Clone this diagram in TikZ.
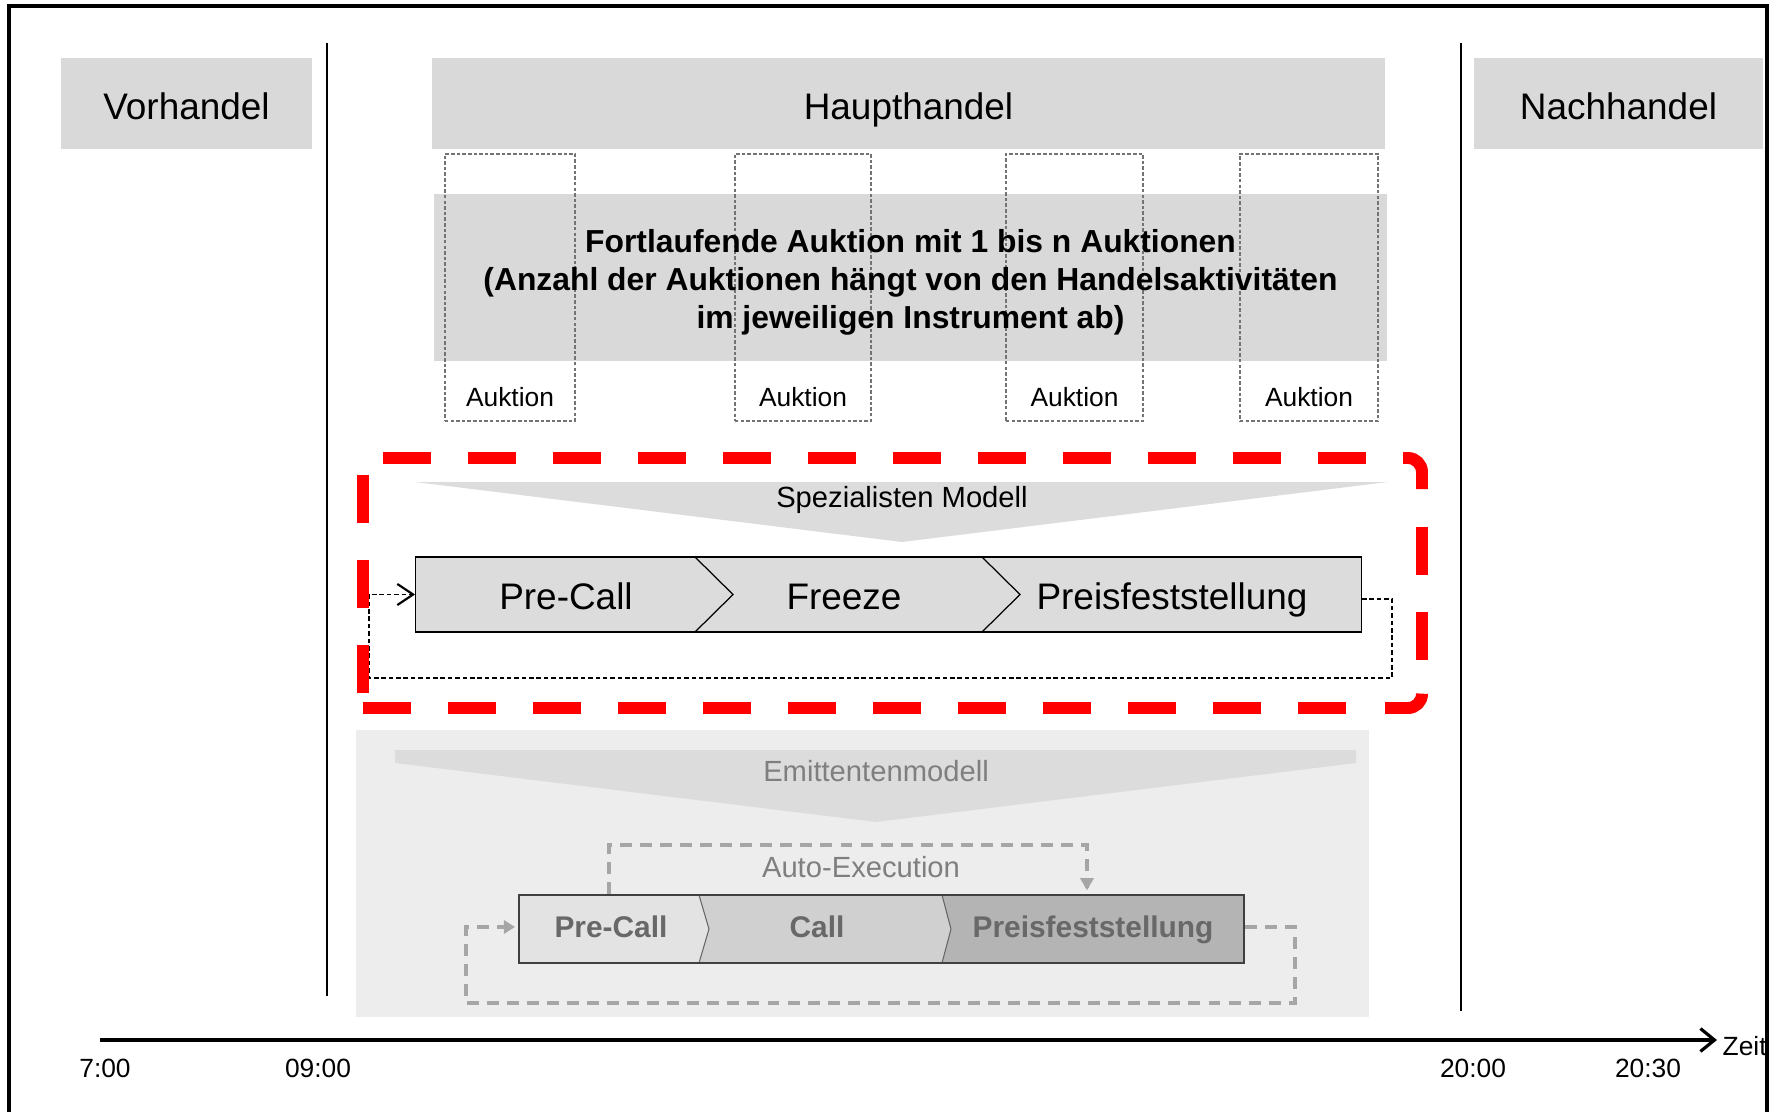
\documentclass[tikz,border=0pt]{standalone}
\usepackage{fontspec}
\setmainfont{Liberation Sans}
\usetikzlibrary{arrows.meta,calc}
\definecolor{hdr}{HTML}{D9D9D9}
\definecolor{bgE}{HTML}{EDEDED}
\definecolor{triE}{HTML}{DCDCDC}
\definecolor{txtE}{HTML}{7F7F7F}
\definecolor{redd}{HTML}{FF0000}
\definecolor{cA}{HTML}{E3E3E3}
\definecolor{cB}{HTML}{D0D0D0}
\definecolor{cC}{HTML}{B4B4B4}
\definecolor{lnE}{HTML}{A6A6A6}
\definecolor{txtR}{HTML}{686868}
\begin{document}
\begin{tikzpicture}[x=0.01cm,y=-0.01cm,
  hdrbox/.style={fill=hdr,inner sep=0pt,text height=9pt,text depth=0pt,font=\fontsize{10.5}{12.6}\selectfont},
  aukbox/.style={draw=black!55,line width=0.35pt,dash pattern=on 1pt off 0.6pt,inner sep=0pt},
  auklbl/.style={inner sep=0pt,text height=5.37pt,text depth=0pt,font=\fontsize{7.5}{9}\selectfont},
  bigtxt/.style={inner sep=0pt,text height=7.52pt,text depth=0pt,font=\fontsize{10.5}{12.6}\selectfont},
  midtxt/.style={inner sep=0pt,text height=5.94pt,text depth=0pt,font=\fontsize{8.3}{10}\selectfont},
  rowtwo/.style={inner sep=0pt,text height=6.09pt,text depth=0pt,text=txtR,font=\bfseries\fontsize{8.5}{10}\selectfont},
  timelbl/.style={inner sep=0pt,text height=5.37pt,text depth=0pt,font=\fontsize{7.5}{9}\selectfont},
  redseg/.style={draw=redd,line width=3.4pt,rounded corners=4},
  blkloop/.style={draw=black,line width=0.55pt,dash pattern=on 1.3pt off 0.8pt},
  grayloop/.style={draw=lnE,line width=0.9pt,dash pattern=on 3.4pt off 2.3pt},
  divline/.style={draw=black,line width=0.35pt}
]
\useasboundingbox (0,0) rectangle (1781,1112);

% outer frame
\draw[line width=0.9pt] (9,1112) -- (9,6) -- (1767,6) -- (1767,1112);

% phase separators
\coordinate (s1t) at (327,43); \coordinate (s1b) at (327,996);
\coordinate (s2t) at (1461,43); \coordinate (s2b) at (1461,1011);
\draw[line width=0.6pt] (s1t) -- (s1b);
\draw[line width=0.6pt] (s2t) -- (s2b);

% headers
\node[hdrbox,minimum width=2.51cm,minimum height=0.91cm] (vor) at (186.5,103.5) {Vorhandel};
\node[hdrbox,minimum width=9.53cm,minimum height=0.91cm] (haupt) at (908.5,103.5) {Haupthandel};
\node[hdrbox,minimum width=2.89cm,minimum height=0.91cm] (nach) at (1618.5,103.5) {Nachhandel};

% continuous auction block
\node[fill=hdr,inner sep=0pt,minimum width=9.53cm,minimum height=1.67cm] (fort) at (910.5,277.5) {};
\node[aukbox,minimum width=1.30cm,minimum height=2.67cm] (a1) at (510,287.5) {};
\node[aukbox,minimum width=1.36cm,minimum height=2.67cm] (a2) at (803,287.5) {};
\node[aukbox,minimum width=1.37cm,minimum height=2.67cm] (a3) at (1074.5,287.5) {};
\node[aukbox,minimum width=1.38cm,minimum height=2.67cm] (a4) at (1309,287.5) {};
\node[inner sep=0pt,align=center,font=\bfseries\fontsize{9.05}{10.9}\selectfont] (forttxt) at ($(fort.center)+(0,5)$)
  {Fortlaufende Auktion mit 1 bis n Auktionen\\(Anzahl der Auktionen hängt von den Handelsaktivitäten\\im jeweiligen Instrument ab)};
\node[auklbl] (l1) at ($(a1.south)+(0,-25)$) {Auktion};
\node[auklbl] (l2) at ($(a2.south)+(0,-25)$) {Auktion};
\node[auklbl] (l3) at ($(a3.south)+(0,-25)$) {Auktion};
\node[auklbl] (l4) at ($(a4.south)+(0,-25)$) {Auktion};

% Spezialisten Modell
\fill[triE] (415,482) -- (1388,482) -- (902,542) -- cycle;
\node[midtxt] (spez) at (902,497) {Spezialisten Modell};

\node[fill=triE,draw=black,line width=0.4pt,inner sep=0pt,minimum width=9.45cm,minimum height=0.75cm] (row1) at (888.5,594.5) {};
\draw[divline] (695,557) -- (733,594.5) -- (695,632);
\draw[divline] (982,557) -- (1020,594.5) -- (982,632);
\node[bigtxt] (p1) at (566,596) {Pre-Call};
\node[bigtxt] (p2) at (844,596) {Freeze};
\node[bigtxt] (p3) at (1172,596) {Preisfeststellung};

\coordinate (lr1) at (1392,599);
\coordinate (lr2) at (1392,678);
\coordinate (ll1) at (369,678);
\coordinate (ll2) at (369,594.5);
\draw[blkloop,-{Straight Barb[length=4.5pt,width=6pt,line width=0.6pt]}] (row1.east |- lr1) -- (lr1) -- (lr2) -- (ll1) -- (ll2) -- (row1.west);

% red dashed frame (dashes drawn one by one)
\foreach \xx in {383,468,...,1318} \draw[redseg] (\xx,458) -- ++(48,0);
\foreach \xx in {363,448,...,1298} \draw[redseg] (\xx,708) -- ++(48,0);
\foreach \yy in {475,560,645} \draw[redseg] (363,\yy) -- ++(0,48);
\foreach \yy in {527,612} \draw[redseg] (1422,\yy) -- ++(0,48);
\draw[redseg] (1403,458) -- (1422,458) -- (1422,489);
\draw[redseg] (1422,697) -- (1422,708) -- (1385,708);

% Emittentenmodell
\node[fill=bgE,inner sep=0pt,minimum width=10.13cm,minimum height=2.87cm] (emit) at (862.5,873.5) {};
\fill[triE] (395,750) -- (1356,750) -- (1356,763) -- (876,822) -- (395,763) -- cycle;
\node[midtxt,text=txtE] (emittxt) at (876,771) {Emittentenmodell};

\fill[cA] (519,895) -- (699,895) -- (709,929) -- (699,963) -- (519,963) -- cycle;
\fill[cB] (699,895) -- (942,895) -- (951,929) -- (942,963) -- (699,963) -- (709,929) -- cycle;
\fill[cC] (942,895) -- (1244,895) -- (1244,963) -- (942,963) -- (951,929) -- cycle;
\draw[draw=black!60,line width=0.3pt] (699,895) -- (709,929) -- (699,963);
\draw[draw=black!60,line width=0.3pt] (942,895) -- (951,929) -- (942,963);
\node[draw=black!75,line width=0.5pt,inner sep=0pt,minimum width=7.25cm,minimum height=0.68cm] (row2) at (881.5,929) {};
\node[rowtwo] (q1) at (611,927) {Pre-Call};
\node[rowtwo] (q2) at (817,927) {Call};
\node[rowtwo] (q3) at (1093,927) {Preisfeststellung};

\coordinate (ae1) at (609,845);
\coordinate (ae2) at (1087,845);
\draw[grayloop] (row2.north -| ae1) -- (ae1) -- (ae2) -- ($(row2.north -| ae2)+(0,-6)$);
\draw[fill=lnE,draw=none] ($(row2.north -| ae2)+(-7,-16)$) -- ($(row2.north -| ae2)+(7,-16)$) -- ($(row2.north -| ae2)+(0,-4)$) -- cycle;
\node[midtxt,text=txtE] (autotxt) at (861,867) {Auto-Execution};

\coordinate (br1) at (1295,927);
\coordinate (br2) at (1295,1003);
\coordinate (bl1) at (466,1003);
\coordinate (bl2) at (466,927);
\draw[grayloop] (row2.east |- br1) -- (br1) -- (br2) -- (bl1) -- (bl2) -- ($(row2.west)+(-14,-2)$);
\draw[fill=lnE,draw=none] ($(row2.west)+(-14,-9)$) -- ($(row2.west)+(-14,5)$) -- ($(row2.west)+(-3,-2)$) -- cycle;

% timeline
\coordinate (ax0) at (100,1040);
\coordinate (ax1) at (1717,1040);
\draw[line width=0.9pt,-{Straight Barb[length=4pt,width=6.5pt]}] (ax0) -- (ax1);
\node[timelbl,anchor=west] (zeit) at (1722,1046) {Zeit};
\node[timelbl] (t1) at (105,1068) {7:00};
\node[timelbl] (t2) at (318,1068) {09:00};
\node[timelbl] (t3) at (1473,1068) {20:00};
\node[timelbl] (t4) at (1648,1068) {20:30};
\end{tikzpicture}
\end{document}
